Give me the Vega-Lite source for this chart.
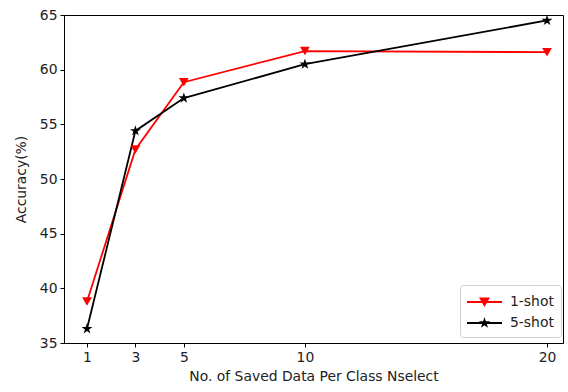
{
  "$schema": "https://vega.github.io/schema/vega-lite/v6.json",
  "autosize": "none",
  "width": 499,
  "height": 328,
  "padding": {"left": 64, "top": 15, "right": 5, "bottom": 49},
  "config": {
    "font": "DejaVu Sans",
    "view": {"stroke": "black", "strokeWidth": 1},
    "axis": {"grid": false, "domainColor": "black", "tickColor": "black", "labelColor": "#222", "titleColor": "#222", "labelFontSize": 13.9, "titleFontSize": 13.9, "titleFontWeight": "normal", "tickSize": 4}
  },
  "data": {
    "values": [
      {"n": 1, "acc": 38.8, "series": "1-shot"},
      {"n": 3, "acc": 52.7, "series": "1-shot"},
      {"n": 5, "acc": 58.85, "series": "1-shot"},
      {"n": 10, "acc": 61.7, "series": "1-shot"},
      {"n": 20, "acc": 61.6, "series": "1-shot"},
      {"n": 1, "acc": 36.3, "series": "5-shot"},
      {"n": 3, "acc": 54.4, "series": "5-shot"},
      {"n": 5, "acc": 57.4, "series": "5-shot"},
      {"n": 10, "acc": 60.5, "series": "5-shot"},
      {"n": 20, "acc": 64.5, "series": "5-shot"}
    ]
  },
  "encoding": {
    "x": {"field": "n", "type": "quantitative", "scale": {"domain": [0.05, 20.66], "nice": false, "zero": false}, "axis": {"values": [1, 3, 5, 10, 20], "title": "No. of Saved Data Per Class Nselect", "titlePadding": 6, "labelPadding": 3}},
    "y": {"field": "acc", "type": "quantitative", "scale": {"domain": [35, 65], "nice": false, "zero": false}, "axis": {"values": [35, 40, 45, 50, 55, 60, 65], "title": "Accuracy(%)", "titlePadding": 11, "labelPadding": 3}},
    "color": {"field": "series", "type": "nominal", "scale": {"domain": ["1-shot", "5-shot"], "range": ["#ff0000", "#000000"]}, "legend": {"title": null, "orient": "none", "legendX": 396, "legendY": 270, "strokeColor": "#d0d0d0", "fillColor": "white", "padding": 7, "cornerRadius": 3, "labelFontSize": 13.9, "labelColor": "#222", "labelOffset": 23, "symbolSize": 400, "symbolStrokeWidth": 0, "rowPadding": 4, "encode": {"symbols": {"update": {"shape": {"signal": "datum.label === '1-shot' ? 'M-1,-0.09H2.5V0.09H-1Z M0.2,-0.45L1.3,-0.45L0.75,0.5Z' : 'M-1,-0.09H2.5V0.09H-1Z M0.75,-0.6L0.8847,-0.1854L1.3206,-0.1854L0.9678,0.0708L1.1028,0.4854L0.75,0.2292L0.3972,0.4854L0.5322,0.0708L0.1794,-0.1854L0.6153,-0.1854Z'"}, "fill": {"signal": "datum.label === '1-shot' ? '#ff0000' : '#000000'"}, "fillOpacity": {"value": 1}}}}}}
  },
  "layer": [
    {"mark": {"type": "line", "strokeWidth": 1.8}},
    {"transform": [{"filter": "datum.series === '1-shot'"}], "mark": {"type": "point", "filled": true, "size": 95, "opacity": 1, "shape": "triangle-down"}},
    {"transform": [{"filter": "datum.series === '5-shot'"}], "mark": {"type": "point", "filled": true, "size": 130, "opacity": 1, "shape": "M0,-1L0.2245,-0.309L0.951,-0.309L0.363,0.118L0.588,0.809L0,0.382L-0.588,0.809L-0.363,0.118L-0.951,-0.309L-0.2245,-0.309Z"}}
  ]
}
